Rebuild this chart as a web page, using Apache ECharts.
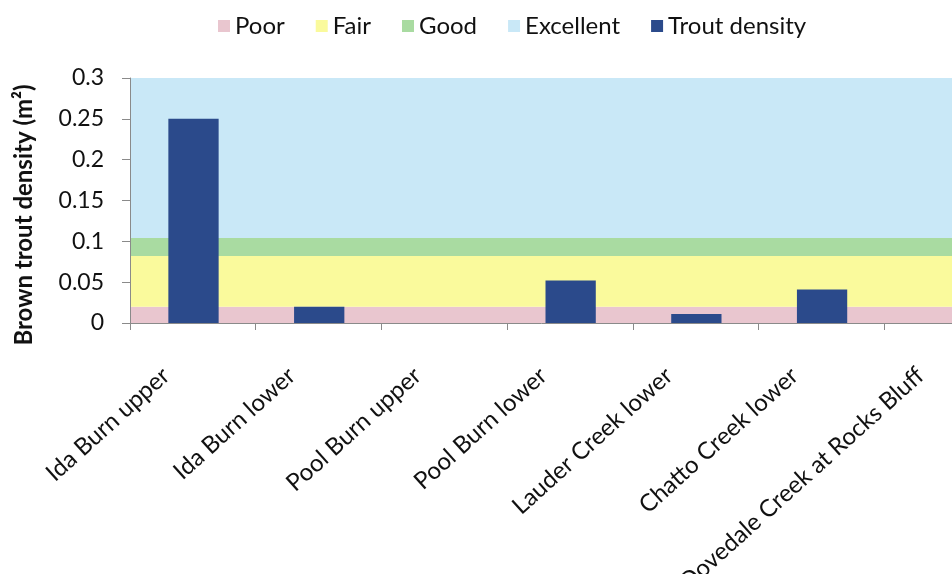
<!DOCTYPE html>
<html>
<head>
<meta charset="utf-8">
<script src="https://cdn.jsdelivr.net/npm/echarts@6/dist/echarts.min.js"></script>
<style>
  html, body { margin: 0; padding: 0; background: #ffffff; }
  #chart { width: 952px; height: 574px; }
</style>
</head>
<body>
<div id="chart"></div>
<script>
// Sampling sites
const sites = [
  'Ida Burn upper',
  'Ida Burn lower',
  'Pool Burn upper',
  'Pool Burn lower',
  'Lauder Creek lower',
  'Chatto Creek lower',
  'Dovedale Creek at Rocks Bluff'
];

// Brown trout density per site (fish per m²)
const troutDensity = [0.25, 0.02, 0, 0.052, 0.011, 0.041, 0];

// Condition class bands: lower and upper density limits
const bandNames = ['Poor', 'Fair', 'Good', 'Excellent'];
const bandLower = [0, 0.02, 0.082, 0.104];
const bandUpper = [0.02, 0.082, 0.104, 0.3];

// Y axis ticks
const yMin = 0, yMax = 0.3, yStep = 0.05;

const bandColors = ['#e9c6cf', '#fafa9c', '#a9dba1', '#c9e8f7'];
const barColor = '#2b4a8b';
const font = 'Lato, "Open Sans", sans-serif';

// Each band is an empty series carrying a full-width mark area,
// so it gets its own legend entry
const bandSeries = bandNames.map((name, i) => ({
  name: name,
  type: 'bar',
  itemStyle: { color: bandColors[i] },
  data: [],
  z: 1,
  markArea: {
    silent: true,
    itemStyle: { color: bandColors[i], opacity: 1 },
    data: [[{ yAxis: bandLower[i] }, { yAxis: bandUpper[i] }]]
  }
}));

const chart = echarts.init(document.getElementById('chart'), null, { renderer: 'canvas' });
chart.setOption({
  animation: false,
  backgroundColor: '#ffffff',
  textStyle: { fontFamily: font },
  legend: {
    top: 9,
    left: 213,
    itemWidth: 12,
    itemHeight: 12,
    itemGap: 31,
    icon: 'rect',
    textStyle: { fontFamily: font, fontSize: 24, color: '#111' },
    data: ['Poor', 'Fair', 'Good', 'Excellent', 'Trout density']
  },
  // The last category runs past the right edge of the page
  grid: {
    left: 130, top: 78, width: 880, height: 245,
    containLabel: false,
    outerBoundsMode: 'none'
  },
  xAxis: {
    type: 'category',
    data: sites,
    axisLine: { show: true, lineStyle: { color: '#8a8a8a', width: 1 } },
    axisTick: { show: true, length: 7, lineStyle: { color: '#8a8a8a' } },
    axisLabel: {
      interval: 0,
      rotate: 42,
      margin: 25,
      padding: [0, 36, 0, 0],
      fontFamily: font,
      fontSize: 24,
      color: '#111'
    },
    z: 5
  },
  yAxis: {
    type: 'value',
    min: yMin,
    max: yMax,
    interval: yStep,
    axisLine: { show: true, lineStyle: { color: '#8a8a8a' } },
    axisTick: { show: true, inside: false, length: 8, lineStyle: { color: '#8a8a8a' } },
    splitLine: { show: false },
    axisLabel: { fontFamily: font, fontSize: 23, color: '#111', margin: 26 },
    z: 5
  },
  graphic: [
    {
      type: 'text',
      x: 24,
      y: 215,
      rotation: Math.PI / 2,
      style: {
        text: 'Brown trout density (m²)',
        fontFamily: font,
        fontSize: 24,
        fontWeight: 'bold',
        fill: '#111',
        align: 'center',
        verticalAlign: 'middle'
      }
    }
  ],
  series: bandSeries.concat([
    {
      name: 'Trout density',
      type: 'bar',
      barWidth: '40%',
      itemStyle: { color: barColor },
      z: 3,
      data: troutDensity
    }
  ])
});
</script>
</body>
</html>
